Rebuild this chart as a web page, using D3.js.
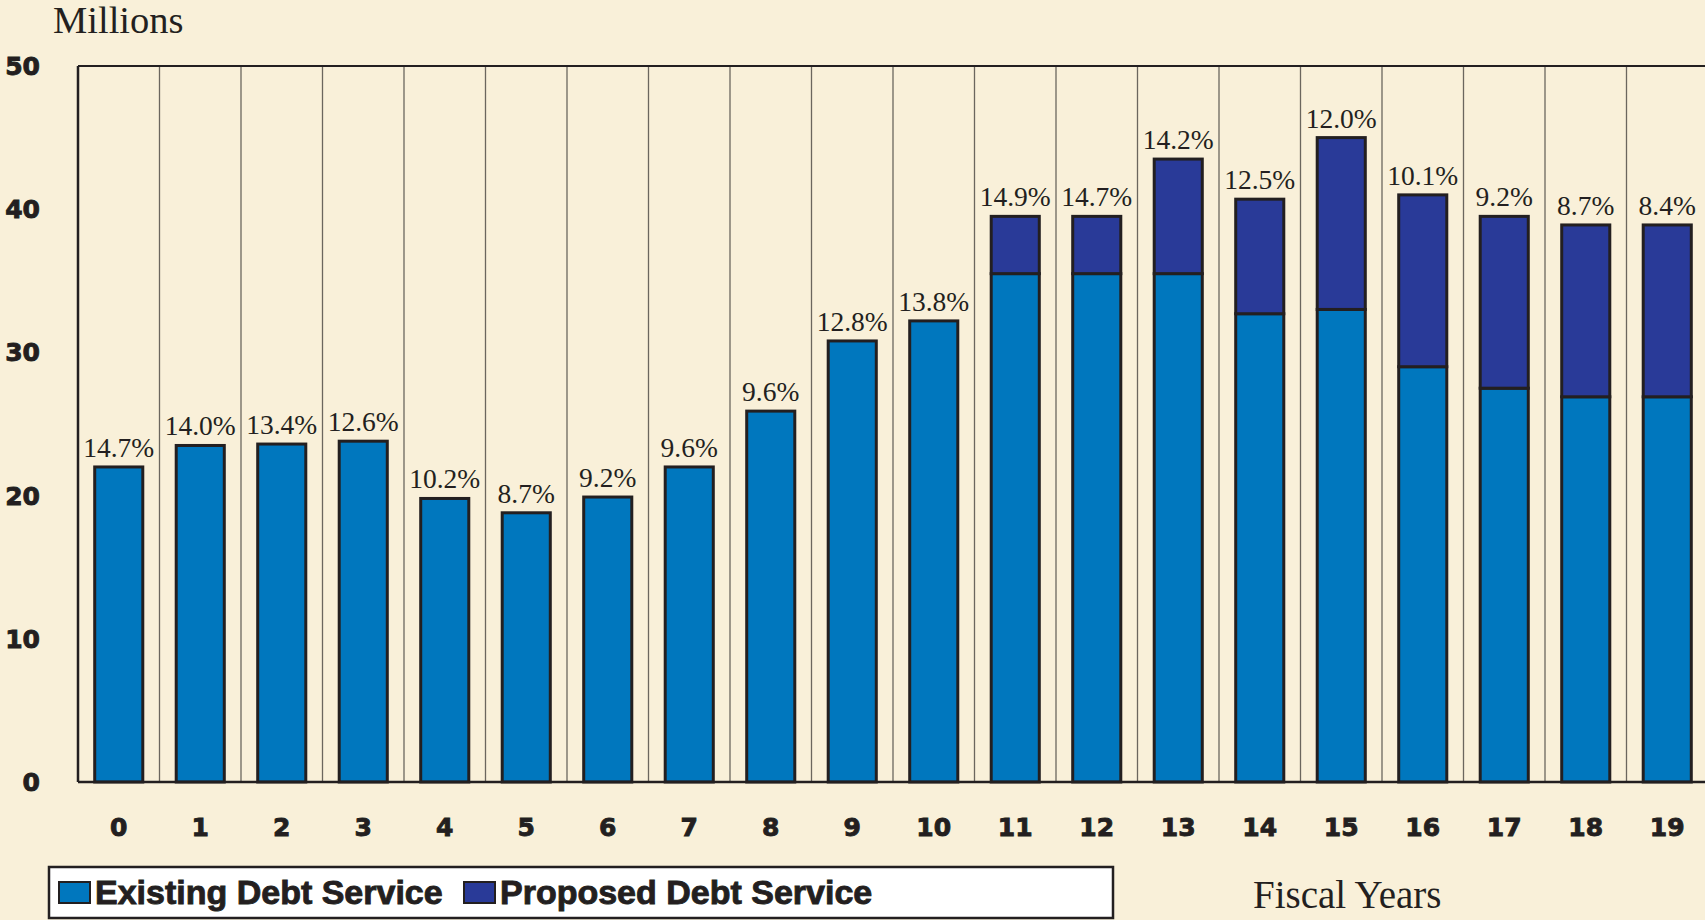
<!DOCTYPE html>
<html>
<head>
<meta charset="utf-8">
<script src="https://cdn.jsdelivr.net/npm/d3@7"></script>
<style>
  body { margin: 0; background: #f9f0d9; }
  svg { display: block; }
</style>
</head>
<body>
<svg width="1705" height="920"></svg>
<script>
var years = ["0","1","2","3","4","5","6","7","8","9","10","11","12","13","14","15","16","17","18","19"];
var existing = [22.0, 23.5, 23.6, 23.8, 19.8, 18.8, 19.9, 22.0, 25.9, 30.8, 32.2, 35.5, 35.5, 35.5, 32.7, 33.0, 29.0, 27.5, 26.9, 26.9];
var proposed = [0, 0, 0, 0, 0, 0, 0, 0, 0, 0, 0, 4.0, 4.0, 8.0, 8.0, 12.0, 12.0, 12.0, 12.0, 12.0];
var ratios = ["14.7%","14.0%","13.4%","12.6%","10.2%","8.7%","9.2%","9.6%","9.6%","12.8%","13.8%","14.9%","14.7%","14.2%","12.5%","12.0%","10.1%","9.2%","8.7%","8.4%"];
var yTicks = [0, 10, 20, 30, 40, 50];
var seriesNames = ["Existing Debt Service", "Proposed Debt Service"];
var seriesColors = ["#0077be", "#293a98"];

var svg = d3.select("svg"),
    width = +svg.attr("width"),
    height = +svg.attr("height");

var plotLeft = 78, plotRight = 1708, plotTop = 66, plotBottom = 782;

svg.append("rect").attr("width", width).attr("height", height).attr("fill", "#f9f0d9");

var x = d3.scaleBand()
    .domain(years)
    .range([plotLeft, plotRight])
    .paddingInner(0.41)
    .paddingOuter(0.205);

var y = d3.scaleLinear()
    .domain([0, 50])
    .range([plotBottom, plotTop]);

var step = x.step();

// vertical column dividers
svg.append("g").selectAll("line")
  .data(years.slice(1))
  .enter().append("line")
    .attr("x1", function(d) { return x(d) - step * 0.205; })
    .attr("x2", function(d) { return x(d) - step * 0.205; })
    .attr("y1", plotTop)
    .attr("y2", plotBottom)
    .attr("stroke", "#6b665e")
    .attr("stroke-width", 1.3);

// frame
svg.append("line").attr("x1", plotLeft).attr("x2", width).attr("y1", plotTop).attr("y2", plotTop)
    .attr("stroke", "#231f20").attr("stroke-width", 2);
svg.append("line").attr("x1", plotLeft).attr("x2", plotLeft).attr("y1", plotTop).attr("y2", plotBottom)
    .attr("stroke", "#231f20").attr("stroke-width", 2.5);

var table = years.map(function(d, i) {
  return { year: d, existing: existing[i], proposed: proposed[i] };
});

var stack = d3.stack().keys(["existing", "proposed"]);
var layers = stack(table);

svg.append("g").selectAll("g")
  .data(layers)
  .enter().append("g")
    .attr("fill", function(d, i) { return seriesColors[i]; })
  .selectAll("rect")
  .data(function(d) { return d.filter(function(s) { return s[1] - s[0] > 0; }); })
  .enter().append("rect")
    .attr("x", function(d) { return x(d.data.year); })
    .attr("width", x.bandwidth())
    .attr("y", function(d) { return y(d[1]); })
    .attr("height", function(d) { return y(d[0]) - y(d[1]); })
    .attr("stroke", "#231f20")
    .attr("stroke-width", 3);

// baseline
svg.append("line").attr("x1", plotLeft).attr("x2", width).attr("y1", plotBottom).attr("y2", plotBottom)
    .attr("stroke", "#231f20").attr("stroke-width", 2.5);

// percentage labels
svg.append("g").selectAll("text")
  .data(table)
  .enter().append("text")
    .attr("x", function(d) { return x(d.year) + x.bandwidth() / 2; })
    .attr("y", function(d) { return y(d.existing + d.proposed) - 10; })
    .attr("text-anchor", "middle")
    .style("font-family", "'Liberation Serif', serif")
    .style("font-size", "27.5px")
    .attr("fill", "#231f20")
    .text(function(d, i) { return ratios[i]; });

// y axis labels
svg.append("g").selectAll("text")
  .data(yTicks)
  .enter().append("text")
    .attr("x", 40)
    .attr("y", function(d) { return y(d); })
    .attr("dy", "0.36em")
    .attr("text-anchor", "end")
    .style("font-family", "'DejaVu Sans', sans-serif")
    .style("font-weight", "bold")
    .style("font-size", "25px")
    .attr("fill", "#231f20")
    .attr("stroke", "#231f20")
    .attr("stroke-width", 0.9)
    .text(function(d) { return d; });

// x axis labels
svg.append("g").selectAll("text")
  .data(years)
  .enter().append("text")
    .attr("x", function(d) { return x(d) + x.bandwidth() / 2; })
    .attr("y", 827)
    .attr("dy", "0.36em")
    .attr("text-anchor", "middle")
    .style("font-family", "'DejaVu Sans', sans-serif")
    .style("font-weight", "bold")
    .style("font-size", "25px")
    .attr("fill", "#231f20")
    .attr("stroke", "#231f20")
    .attr("stroke-width", 0.9)
    .text(function(d) { return d; });

svg.append("text")
    .attr("x", 53).attr("y", 33)
    .style("font-family", "'Liberation Serif', serif")
    .style("font-size", "38.5px")
    .attr("fill", "#231f20")
    .text("Millions");

svg.append("text")
    .attr("x", 1253).attr("y", 908)
    .style("font-family", "'Liberation Serif', serif")
    .style("font-size", "39px")
    .attr("fill", "#231f20")
    .text("Fiscal Years");

// legend
var legend = svg.append("g");
legend.append("rect")
    .attr("x", 49).attr("y", 867).attr("width", 1064).attr("height", 51)
    .attr("fill", "#ffffff").attr("stroke", "#231f20").attr("stroke-width", 2.5);

var legendX = [59, 464];
var items = legend.selectAll("g.item")
  .data(seriesNames)
  .enter().append("g")
    .attr("class", "item")
    .attr("transform", function(d, i) { return "translate(" + legendX[i] + ",0)"; });

items.append("rect")
    .attr("x", 0).attr("y", 882).attr("width", 31).attr("height", 21)
    .attr("fill", function(d, i) { return seriesColors[i]; })
    .attr("stroke", "#231f20").attr("stroke-width", 2);

items.append("text")
    .attr("x", 36).attr("y", 904)
    .style("font-family", "'Liberation Sans', sans-serif")
    .style("font-weight", "bold")
    .style("font-size", "34px")
    .attr("fill", "#231f20")
    .attr("stroke", "#231f20")
    .attr("stroke-width", 0.9)
    .text(function(d) { return d; });
</script>
</body>
</html>
